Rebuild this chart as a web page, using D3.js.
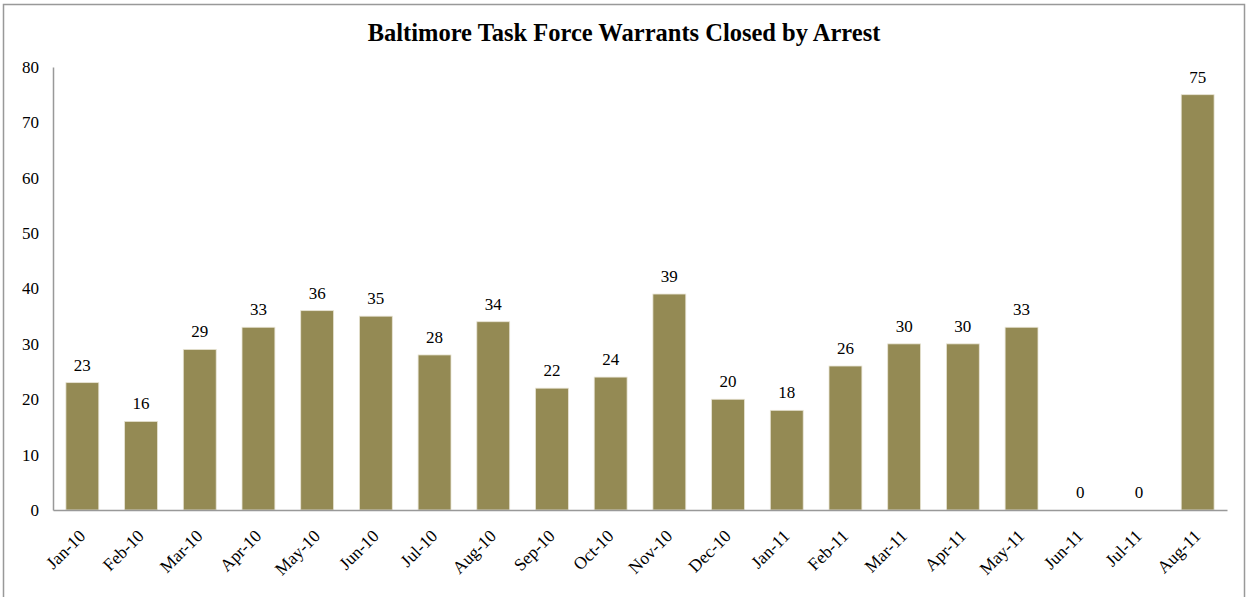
<!DOCTYPE html>
<html>
<head>
<meta charset="utf-8">
<script src="https://cdn.jsdelivr.net/npm/d3@7"></script>
<style>
  body { margin: 0; background: #fff; }
  svg { display: block; font-family: "Liberation Serif", "Times New Roman", serif; }
  svg text { font-family: "Liberation Serif", "Times New Roman", serif; }
</style>
</head>
<body>
<svg id="chart"></svg>
<script>
const months = ["Jan-10", "Feb-10", "Mar-10", "Apr-10", "May-10", "Jun-10", "Jul-10", "Aug-10",
    "Sep-10", "Oct-10", "Nov-10", "Dec-10", "Jan-11", "Feb-11", "Mar-11", "Apr-11", "May-11",
    "Jun-11", "Jul-11", "Aug-11"];
const arrests = [23, 16, 29, 33, 36, 35, 28, 34, 22, 24, 39, 20, 18, 26, 30, 30, 33, 0, 0, 75];
const yTicks = [0, 10, 20, 30, 40, 50, 60, 70, 80];

const width = 1247, height = 597;
const margin = { top: 67, right: 20, bottom: 87, left: 53 };
const innerW = 1227 - margin.left;
const innerH = 510 - margin.top;

const svg = d3.select("#chart").attr("width", width).attr("height", height);

// outer chart border
svg.append("rect")
    .attr("x", 3.5).attr("y", 4.5)
    .attr("width", 1241).attr("height", 620)
    .attr("fill", "none")
    .attr("stroke", "#999")
    .attr("stroke-width", 1.5);

svg.append("text")
    .attr("x", 624)
    .attr("y", 41)
    .attr("text-anchor", "middle")
    .attr("font-weight", "bold")
    .style("font-size", "24.5px")
    .text("Baltimore Task Force Warrants Closed by Arrest");

const g = svg.append("g").attr("transform", `translate(${margin.left},${margin.top})`);

const x = d3.scaleBand().domain(months).range([0, innerW]).paddingInner(0.44).paddingOuter(0.22);
const y = d3.scaleLinear().domain([0, 80]).range([innerH, 0]);

// y axis
const yAxis = g.append("g")
    .call(d3.axisLeft(y).tickValues(yTicks).tickSize(0).tickPadding(14));
yAxis.select(".domain").attr("stroke", "#999").attr("stroke-width", 1.5);
yAxis.selectAll("text")
    .style("font-size", "17px")
    .attr("fill", "#000");

// bars
g.selectAll("rect.bar")
    .data(arrests)
    .join("rect")
    .attr("class", "bar")
    .attr("x", (d, i) => x(months[i]))
    .attr("y", d => y(d))
    .attr("width", x.bandwidth())
    .attr("height", d => innerH - y(d))
    .attr("fill", "#948a54")
    .attr("stroke", "#e8e4d4")
    .attr("stroke-width", 0.8);

// value labels
g.selectAll("text.val")
    .data(arrests)
    .join("text")
    .attr("class", "val")
    .attr("x", (d, i) => x(months[i]) + x.bandwidth() / 2)
    .attr("y", d => y(d) - 12)
    .attr("text-anchor", "middle")
    .style("font-size", "17px")
    .text(d => d);

// x axis
const xAxis = g.append("g")
    .attr("transform", `translate(0,${innerH})`)
    .call(d3.axisBottom(x).tickSize(0).tickPadding(0));
xAxis.select(".domain").attr("stroke", "#999").attr("stroke-width", 1.5);
xAxis.selectAll("text")
    .style("font-size", "17.5px")
    .attr("fill", "#000")
    .attr("text-anchor", "end")
    .attr("dy", "0")
    .attr("transform", "translate(4,27) rotate(-45)");
</script>
</body>
</html>
